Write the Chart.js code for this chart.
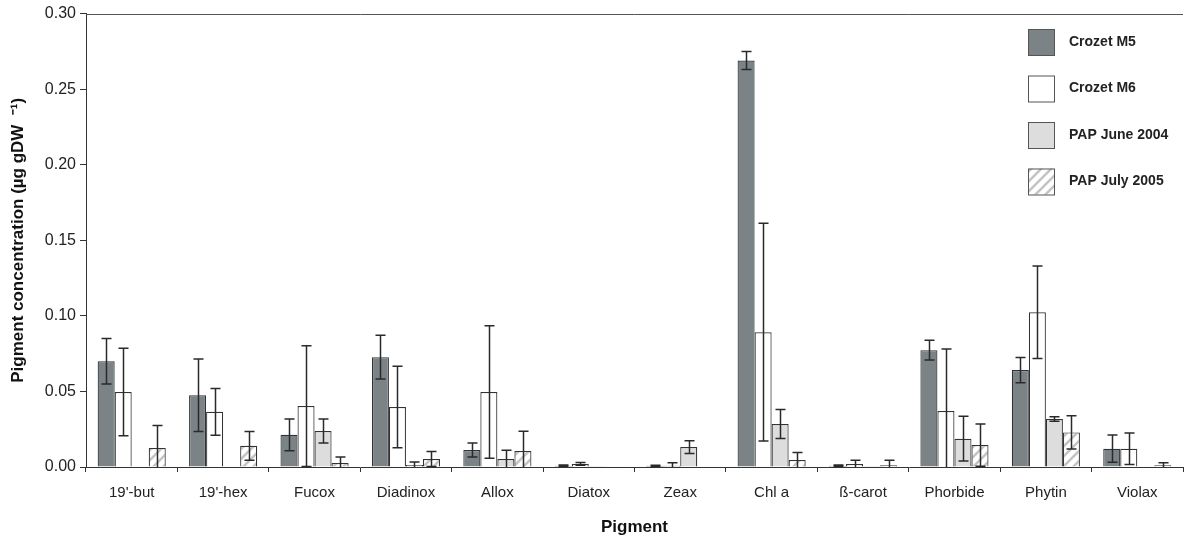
<!DOCTYPE html>
<html>
<head>
  <title>Pigment concentration</title>
  <script src="https://cdn.jsdelivr.net/npm/chart.js"></script>
  <style>
    html, body { margin: 0; padding: 0; background: #fff; }
    #wrap { width: 1184px; height: 541px; }
  </style>
</head>
<body>
  <div id="wrap"><canvas id="pigmentChart"></canvas></div>

  <script>
    // pigments on the x axis
    const pigments = ["19'-but", "19'-hex", 'Fucox', 'Diadinox', 'Allox', 'Diatox', 'Zeax', 'Chl a', 'ß-carot', 'Phorbide', 'Phytin', 'Violax'];
    const yTicks = [0, 0.05, 0.10, 0.15, 0.20, 0.25, 0.30];

    // means and error (+/-) per site, µg gDW-1
    const crozetM5 = [0.070, 0.0475, 0.0213, 0.0727, 0.0112, 0.0009, 0.0008, 0.269, 0.0009, 0.0773, 0.0641, 0.0121];
    const crozetM5Err = [0.015, 0.024, 0.0105, 0.0145, 0.0046, 0.0004, 0.0004, 0.006, 0.0004, 0.0065, 0.0083, 0.0090];
    const crozetM6 = [0.0496, 0.0365, 0.0403, 0.0397, 0.0496, 0.002, 0.0008, 0.0892, 0.002, 0.037, 0.1024, 0.0121];
    const crozetM6Err = [0.029, 0.0155, 0.040, 0.027, 0.0438, 0.0009, 0.002, 0.072, 0.0024, 0.041, 0.0306, 0.0104];
    const papJune = [null, null, 0.0238, 0.0013, 0.0053, 0.0002, 0.0132, 0.0284, 0.0002, 0.0187, 0.0317, 0];
    const papJuneErr = [null, null, 0.008, 0.002, 0.0058, 0, 0.0042, 0.0096, 0, 0.0148, 0.0015, 0];
    const papJuly = [0.0125, 0.014, 0.0026, 0.0053, 0.0106, 0.0005, 0, 0.0046, 0.0011, 0.0145, 0.0229, 0.0011];
    const papJulyErr = [0.015, 0.0095, 0.004, 0.005, 0.013, 0, 0, 0.005, 0.0033, 0.014, 0.011, 0.0017];

    const FONT = "'Liberation Sans', Arial, sans-serif";

    // diagonal light hatch for the July series
    function makeHatch() {
        const c = document.createElement('canvas');
        c.width = 10; c.height = 10;
        const g = c.getContext('2d');
        g.fillStyle = '#ffffff';
        g.fillRect(0, 0, 10, 10);
        g.strokeStyle = '#c4c4c4';
        g.lineWidth = 2.5;
        g.beginPath();
        g.moveTo(-2, 12); g.lineTo(12, -2);
        g.moveTo(-7, 7); g.lineTo(7, -7);
        g.moveTo(3, 17); g.lineTo(17, 3);
        g.stroke();
        return g.createPattern(c, 'repeat');
    }
    const hatch = makeHatch();

    const errorSets = [crozetM5Err, crozetM6Err, papJuneErr, papJulyErr];

    // whiskers drawn on top of the bars using the value scale
    const errorBars = {
        id: 'errorBars',
        afterDatasetsDraw(chart) {
            const ctx = chart.ctx;
            const y = chart.scales.y;
            ctx.save();
            ctx.strokeStyle = '#2a2a2a';
            ctx.lineWidth = 1.5;
            chart.data.datasets.forEach((ds, di) => {
                const meta = chart.getDatasetMeta(di);
                meta.data.forEach((bar, i) => {
                    const v = ds.data[i];
                    const e = errorSets[di][i];
                    if (v == null || !e) return;
                    const yt = y.getPixelForValue(v + e);
                    const yb = y.getPixelForValue(Math.max(0, v - e));
                    const x = Math.round(bar.x) + 0.5;
                    ctx.beginPath();
                    ctx.moveTo(x, yt); ctx.lineTo(x, yb);
                    ctx.moveTo(x - 5, yt); ctx.lineTo(x + 5, yt);
                    if (v - e > 0) { ctx.moveTo(x - 5, yb); ctx.lineTo(x + 5, yb); }
                    ctx.stroke();
                });
            });
            ctx.restore();
        }
    };

    // top frame line and the boxed legend in the upper right
    const frameAndLegend = {
        id: 'frameAndLegend',
        afterDraw(chart) {
            const ctx = chart.ctx;
            const a = chart.chartArea;
            ctx.save();
            ctx.strokeStyle = '#555';
            ctx.lineWidth = 1;
            ctx.beginPath();
            ctx.moveTo(a.left, Math.round(a.top) + 0.5);
            ctx.lineTo(a.right, Math.round(a.top) + 0.5);
            ctx.stroke();

            chart.data.datasets.forEach((ds, i) => {
                const bx = 1028, by = 29 + i * 46.5;
                ctx.fillStyle = ds.backgroundColor;
                ctx.fillRect(bx, by, 26, 26);
                ctx.strokeStyle = '#555';
                ctx.lineWidth = 1;
                ctx.strokeRect(bx + 0.5, by + 0.5, 26, 26);
                ctx.fillStyle = '#222';
                ctx.font = 'bold 14px ' + FONT;
                ctx.textBaseline = 'middle';
                ctx.textAlign = 'left';
                ctx.fillText(ds.label, 1069, by + 13);
            });
            ctx.restore();
        }
    };

    const ctx = document.getElementById('pigmentChart').getContext('2d');
    const chart = new Chart(ctx, {
        type: 'bar',
        data: {
            labels: pigments,
            datasets: [
                { label: 'Crozet M5', data: crozetM5, backgroundColor: '#7b8387', borderColor: '#2f3335', borderWidth: 1.2 },
                { label: 'Crozet M6', data: crozetM6, backgroundColor: '#ffffff', borderColor: '#333', borderWidth: 1.2 },
                { label: 'PAP June 2004', data: papJune, backgroundColor: '#dddddd', borderColor: '#333', borderWidth: 1.2 },
                { label: 'PAP July 2005', data: papJuly, backgroundColor: hatch, borderColor: '#333', borderWidth: 1.2 }
            ]
        },
        options: {
            responsive: true,
            maintainAspectRatio: false,
            animation: false,
            layout: { padding: { top: 13, right: 1, left: 0, bottom: 0 } },
            datasets: { bar: { categoryPercentage: 0.745, barPercentage: 1.0 } },
            plugins: {
                legend: { display: false },
                tooltip: { enabled: false }
            },
            scales: {
                x: {
                    grid: { drawOnChartArea: false, drawTicks: true, tickLength: 5, color: '#333', offset: true },
                    border: { color: '#333', width: 1 },
                    ticks: { color: '#222', font: { family: FONT, size: 15 }, padding: 12, maxRotation: 0, autoSkip: false },
                    title: {
                        display: true,
                        text: 'Pigment',
                        color: '#111',
                        font: { family: FONT, size: 17, weight: 'bold' },
                        padding: { top: 0, bottom: 3 }
                    },
                    afterFit(scale) { scale.height = 74; }
                },
                y: {
                    min: 0,
                    max: 0.30,
                    afterBuildTicks(scale) { scale.ticks = yTicks.map(v => ({ value: v })); },
                    grid: { drawOnChartArea: false, drawTicks: true, tickLength: 6, color: '#333' },
                    border: { color: '#333', width: 1 },
                    ticks: {
                        color: '#222',
                        font: { family: FONT, size: 16 },
                        padding: 4,
                        callback: v => Number(v).toFixed(2)
                    },
                    title: {
                        display: true,
                        text: 'Pigment concentration (µg gDW  ⁻¹)',
                        color: '#111',
                        font: { family: FONT, size: 17, weight: 'bold' },
                        padding: { top: 8, bottom: 0 }
                    },
                    afterFit(scale) { scale.width = 86; }
                }
            }
        },
        plugins: [errorBars, frameAndLegend]
    });
  </script>
</body>
</html>
